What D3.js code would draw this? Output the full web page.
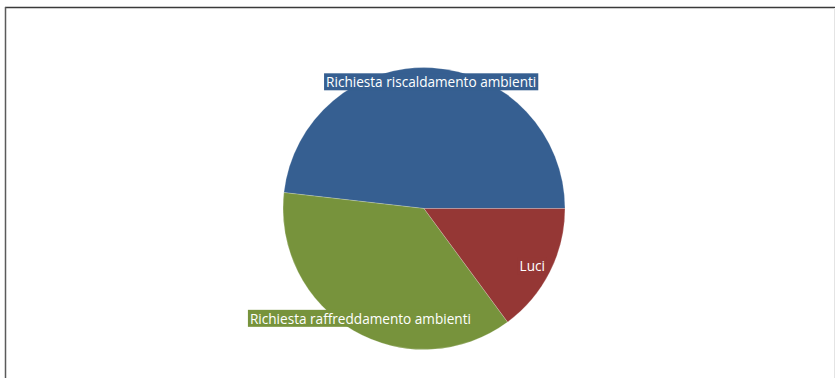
<!DOCTYPE html>
<html>
<head>
<meta charset="utf-8">
<script src="https://cdn.jsdelivr.net/npm/d3@7"></script>
<style>
  html, body { margin: 0; padding: 0; background: #fff; }
  svg { display: block; }
</style>
</head>
<body>
<script>
// Energy demand breakdown (share of total, %)
const categories = ["Richiesta riscaldamento ambienti", "Richiesta raffreddamento ambienti", "Luci"];
const values = [48.2, 36.9, 14.9];
const colors = ["#365f91", "#77933c", "#953735"];

const width = 835, height = 378;
const cx = 424, cy = 208.5, radius = 141;

const svg = d3.select("body").append("svg")
  .attr("width", width)
  .attr("height", height);

// Frame around the chart area
svg.append("rect").attr("x", 0).attr("y", 0).attr("width", width).attr("height", height).attr("fill", "#fff");
svg.append("line").attr("x1", 5).attr("x2", width).attr("y1", 7.5).attr("y2", 7.5)
  .attr("stroke", "#3a3a3a").attr("stroke-width", 1.5);
svg.append("line").attr("x1", 5.5).attr("x2", 5.5).attr("y1", 7).attr("y2", height)
  .attr("stroke", "#5a5a5a").attr("stroke-width", 1.5);
svg.append("line").attr("x1", 834.5).attr("x2", 834.5).attr("y1", 8).attr("y2", height)
  .attr("stroke", "#e4e4e4").attr("stroke-width", 1);

const data = categories.map((c, i) => ({ name: c, value: values[i], color: colors[i], idx: i }));

// Slices run clockwise from 3 o'clock: last category first
const pie = d3.pie()
  .value(d => d.value)
  .sort((a, b) => b.idx - a.idx)
  .startAngle(Math.PI / 2)
  .endAngle(Math.PI / 2 + 2 * Math.PI);

const arcs = pie(data);
const arc = d3.arc().innerRadius(0).outerRadius(radius);
const labelArc = d3.arc().innerRadius(radius * 0.9).outerRadius(radius * 0.9);

const g = svg.append("g").attr("transform", `translate(${cx},${cy})`);

g.selectAll("path.slice")
  .data(arcs)
  .join("path")
  .attr("class", "slice")
  .attr("d", arc)
  .attr("fill", d => d.data.color)
  .attr("stroke", "rgba(255,255,255,0.35)")
  .attr("stroke-width", 0.6);

// Data labels with a background box in the slice colour
const labels = g.selectAll("g.label")
  .data(arcs)
  .join("g")
  .attr("class", "label")
  .attr("transform", d => {
    const [x, y] = labelArc.centroid(d);
    return `translate(${x - (d.data.idx === 2 ? 5 : 0)},${y})`;
  });

labels.append("text")
  .attr("text-anchor", "middle")
  .attr("dominant-baseline", "central")
  .attr("font-family", "'Open Sans', 'Noto Sans', sans-serif")
  .attr("font-size", 13.6)
  .attr("fill", "#ffffff")
  .text(d => d.data.name);

labels.each(function () {
  const grp = d3.select(this);
  const bb = grp.select("text").node().getBBox();
  grp.insert("rect", "text")
    .attr("x", bb.x - 2)
    .attr("y", -8.5)
    .attr("width", bb.width + 4)
    .attr("height", 17)
    .attr("fill", d => d.data.color);
});
</script>
</body>
</html>
